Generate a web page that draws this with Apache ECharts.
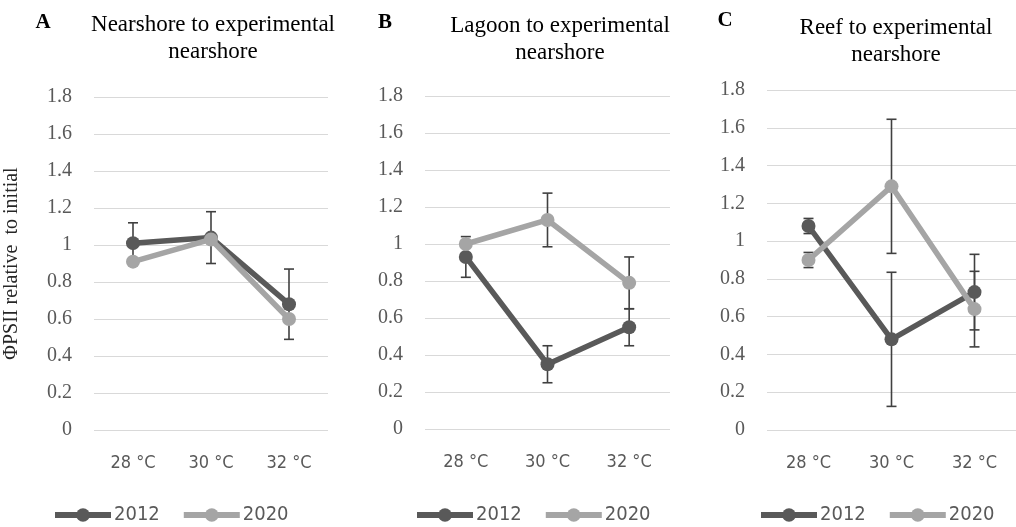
<!DOCTYPE html>
<html>
<head>
<meta charset="utf-8">
<script src="https://cdn.jsdelivr.net/npm/echarts@6/dist/echarts.min.js"></script>
<style>
  html, body { margin: 0; padding: 0; background: #ffffff; }
  #chart { width: 1016px; height: 527px; }
</style>
</head>
<body>
<div id="chart"></div>
<script>
// Temperature treatments (x categories)
const categories = ['28 °C', '30 °C', '32 °C'];
const seriesNames = ['2012', '2020'];
const yTicks = [0, 0.2, 0.4, 0.6, 0.8, 1, 1.2, 1.4, 1.6, 1.8];

// Panel A: nearshore to experimental nearshore
const nearshore2012 = [1.01, 1.04, 0.68];
const nearshore2020 = [0.91, 1.03, 0.60];
const nearshoreErr2012 = [0.11, 0.14, 0.19];
const nearshoreErr2020 = [null, null, null];

// Panel B: lagoon to experimental nearshore
const lagoon2012 = [0.93, 0.35, 0.55];
const lagoon2020 = [1.00, 1.13, 0.79];
const lagoonErr2012 = [0.11, 0.10, 0.10];
const lagoonErr2020 = [null, 0.145, 0.14];

// Panel C: reef to experimental nearshore
const reef2012 = [1.08, 0.48, 0.73];
const reef2020 = [0.90, 1.29, 0.64];
const reefErr2012 = [0.04, 0.355, 0.20];
const reefErr2020 = [0.04, 0.355, 0.20];

const panels = [
  { letter: 'A', title: 'Nearshore to experimental\nnearshore', s2012: nearshore2012, s2020: nearshore2020, e2012: nearshoreErr2012, e2020: nearshoreErr2020 },
  { letter: 'B', title: 'Lagoon to experimental\nnearshore', s2012: lagoon2012, s2020: lagoon2020, e2012: lagoonErr2012, e2020: lagoonErr2020 },
  { letter: 'C', title: 'Reef to experimental\nnearshore', s2012: reef2012, s2020: reef2020, e2012: reefErr2012, e2020: reefErr2020 }
];

// Layout of the three plot areas
const grids = [
  { left: 94, top: 97, width: 234, height: 333 },
  { left: 425, top: 96, width: 245, height: 333 },
  { left: 767, top: 90, width: 252, height: 340 }
];
const titlePos = [
  { letterX: 43, letterY: 23, titleX: 213, titleY: 24 },
  { letterX: 385, letterY: 23, titleX: 560, titleY: 25 },
  { letterX: 725, letterY: 21, titleX: 896, titleY: 27 }
];
const legendLeft = [52, 414, 758];

const COLOR_2012 = '#595959';
const COLOR_2020 = '#a5a5a5';
const ERR_COLOR = '#404040';
const SERIF = "'Liberation Serif', 'Times New Roman', serif";
const NARROW = "'Liberation Sans Narrow', 'DejaVu Sans Condensed', sans-serif";

function errorData(values, errs) {
  const out = [];
  values.forEach((v, i) => {
    if (errs[i] != null) out.push([i, v - errs[i], v + errs[i]]);
  });
  return out;
}

// Vertical error bar with caps, drawn through the category/value axes
function renderErrorBar(params, api) {
  const x = api.value(0);
  const lo = api.coord([x, api.value(1)]);
  const hi = api.coord([x, api.value(2)]);
  const half = 5;
  const style = { stroke: ERR_COLOR, lineWidth: 1.6, fill: null };
  return {
    type: 'group',
    children: [
      { type: 'line', shape: { x1: lo[0], y1: lo[1], x2: hi[0], y2: hi[1] }, style },
      { type: 'line', shape: { x1: hi[0] - half, y1: hi[1], x2: hi[0] + half, y2: hi[1] }, style },
      { type: 'line', shape: { x1: lo[0] - half, y1: lo[1], x2: lo[0] + half, y2: lo[1] }, style }
    ]
  };
}

const option = {
  backgroundColor: '#ffffff',
  animation: false,
  grid: grids.map(g => Object.assign({ containLabel: false }, g)),
  xAxis: grids.map((g, i) => ({
    type: 'category',
    gridIndex: i,
    data: categories,
    boundaryGap: true,
    axisLine: { show: false },
    axisTick: { show: false },
    axisLabel: { color: '#595959', fontFamily: NARROW, fontSize: 18, margin: 24 }
  })),
  yAxis: grids.map((g, i) => ({
    type: 'value',
    gridIndex: i,
    min: 0,
    max: 1.8,
    interval: 0.2,
    name: i === 0 ? 'ΦPSII relative  to initial' : '',
    nameLocation: 'middle',
    nameGap: 72,
    nameTextStyle: { color: '#262626', fontFamily: SERIF, fontSize: 20 },
    axisLine: { show: false },
    axisTick: { show: false },
    splitLine: { show: true, lineStyle: { color: '#d9d9d9', width: 1.2 } },
    axisLabel: {
      color: '#595959', fontFamily: SERIF, fontSize: 20, margin: 22,
      formatter: v => String(Math.round(v * 10) / 10)
    }
  })),
  legend: legendLeft.map(left => ({
    data: seriesNames,
    left: left,
    top: 505,
    padding: 0,
    itemWidth: 56,
    itemHeight: 17,
    itemGap: 21,
    lineStyle: { width: 6 },
    textStyle: { color: '#595959', fontFamily: NARROW, fontSize: 20, padding: [0, 0, 0, -2] }
  })),
  graphic: panels.flatMap((p, i) => [
    {
      type: 'text', x: titlePos[i].letterX, y: titlePos[i].letterY,
      style: { text: p.letter, font: 'bold 21px ' + SERIF, fill: '#000', align: 'center', verticalAlign: 'middle' }
    },
    {
      type: 'text', x: titlePos[i].titleX, y: titlePos[i].titleY - 13,
      style: { text: p.title, font: '23px ' + SERIF, fill: '#000', align: 'center', verticalAlign: 'top', lineHeight: 27 }
    }
  ]),
  series: panels.flatMap((p, i) => [
    {
      name: 'err2012', type: 'custom', xAxisIndex: i, yAxisIndex: i, z: 1,
      renderItem: renderErrorBar, data: errorData(p.s2012, p.e2012),
      encode: { x: 0, y: [1, 2] }, silent: true
    },
    {
      name: 'err2020', type: 'custom', xAxisIndex: i, yAxisIndex: i, z: 1,
      renderItem: renderErrorBar, data: errorData(p.s2020, p.e2020),
      encode: { x: 0, y: [1, 2] }, silent: true
    },
    {
      name: '2012', type: 'line', xAxisIndex: i, yAxisIndex: i, z: 3,
      data: p.s2012, symbol: 'circle', symbolSize: 14,
      lineStyle: { color: COLOR_2012, width: 5.5 },
      itemStyle: { color: COLOR_2012 }
    },
    {
      name: '2020', type: 'line', xAxisIndex: i, yAxisIndex: i, z: 4,
      data: p.s2020, symbol: 'circle', symbolSize: 14,
      lineStyle: { color: COLOR_2020, width: 5.5 },
      itemStyle: { color: COLOR_2020 }
    }
  ])
};

const chart = echarts.init(document.getElementById('chart'), null, { renderer: 'canvas' });
chart.setOption(option);
</script>
</body>
</html>
